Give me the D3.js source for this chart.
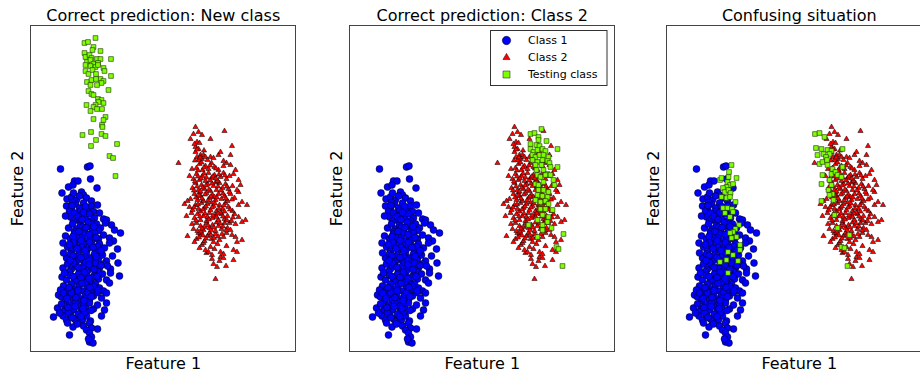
<!DOCTYPE html>
<html>
<head>
<meta charset="utf-8">
<script src="https://cdn.jsdelivr.net/npm/d3@7"></script>
<style>
  body { margin: 0; background: #fff; }
  text { font-family: "DejaVu Sans", sans-serif; fill: #000; }
</style>
</head>
<body>
<svg id="chart" width="920" height="377"></svg>
<script>
// panel titles and labels
const titles = ['Correct prediction: New class', 'Correct prediction: Class 2', 'Confusing situation'];
const xLabel = 'Feature 1';
const yLabel = 'Feature 2';
const legendLabels = ['Class 1', 'Class 2', 'Testing class'];

// class 1 (blue circles), same in every panel
const classOne = [
  [3.0,18.3],[5.7,18.5],[5.95,18.6],[6.0,17.3],[4.4,17.1],[4.75,17.1],[3.8,16.5],[4.25,16.7],[6.65,16.4],[5.1,16.0],
  [5.3,15.7],[3.15,15.9],[3.65,15.3],[4.1,15.5],[4.6,15.2],[5.6,15.4],[6.1,15.1],[4.3,15.9],[4.9,15.6],
  [3.6,14.6],[4.1,14.3],[4.5,14.8],[4.9,14.4],[5.3,14.9],[5.7,14.2],[6.1,14.6],[6.3,14.05],[6.7,14.7],[4.2,14.95],[5.0,14.1],[5.5,14.55],[3.9,14.1],
  [4.0,13.5],[4.4,13.9],[4.7,13.2],[5.1,13.7],[5.5,13.3],[5.9,13.8],[6.4,13.4],[6.9,13.9],[7.3,13.3],[7.6,13.2],[4.3,13.1],[5.3,13.95],[6.1,13.1],[3.5,13.6],
  [3.8,12.4],[4.2,12.8],[4.6,12.3],[5.0,12.7],[5.4,12.2],[5.8,12.6],[6.2,12.1],[6.6,12.8],[7.0,12.4],[8.1,12.7],[8.4,12.2],[7.5,12.9],[4.4,12.05],[5.2,12.5],[6.0,12.9],[6.8,12.15],
  [3.5,11.6],[4.0,11.3],[4.4,11.8],[4.8,11.2],[5.2,11.6],[5.6,11.1],[6.0,11.5],[6.4,11.9],[6.8,11.3],[7.3,11.7],[9.0,11.9],[7.9,11.4],[4.6,11.5],[5.4,11.95],[6.2,11.2],[8.3,11.1],
  [3.25,10.9],[3.7,10.5],[4.1,10.1],[4.5,10.6],[4.9,10.2],[5.3,10.8],[5.7,10.3],[6.1,10.7],[6.5,10.2],[6.9,10.8],[7.4,10.4],[7.9,10.9],[8.7,10.3],[4.3,10.95],[5.1,10.5],[5.9,10.95],[6.7,10.55],[3.9,10.75],
  [3.6,9.4],[4.0,9.8],[4.4,9.3],[4.8,9.7],[5.2,9.2],[5.6,9.9],[6.0,9.4],[6.4,9.8],[6.8,9.3],[7.2,9.7],[7.6,9.1],[8.2,9.6],[4.6,9.05],[5.4,9.55],[6.2,9.05],[7.0,9.95],[3.3,9.9],
  [3.25,8.4],[3.7,8.8],[4.1,8.3],[4.5,8.7],[4.9,8.2],[5.3,8.6],[5.7,8.1],[6.1,8.5],[6.5,8.9],[6.9,8.4],[7.3,8.8],[8.75,8.9],[8.0,8.3],[4.3,8.95],[5.5,8.95],[6.7,8.05],[7.7,8.6],[3.9,8.05],
  [3.15,7.5],[3.6,7.2],[4.0,7.7],[4.4,7.3],[4.8,7.8],[5.2,7.2],[5.6,7.6],[6.0,7.1],[6.4,7.7],[6.8,7.3],[7.2,7.8],[8.0,7.9],[8.9,7.6],[7.6,7.2],[4.6,7.05],[5.4,7.95],[6.2,7.45],[3.4,7.9],
  [3.3,6.6],[3.7,6.2],[4.1,6.8],[4.5,6.3],[4.9,6.7],[5.3,6.1],[5.7,6.6],[6.1,6.2],[6.5,6.8],[6.9,6.4],[7.9,6.9],[7.3,6.1],[4.3,6.05],[5.5,6.95],[6.3,6.55],[3.0,6.2],
  [2.8,5.7],[3.1,5.5],[3.5,5.1],[3.9,5.6],[4.3,5.2],[4.7,5.8],[5.1,5.3],[5.5,5.7],[5.9,5.2],[6.3,5.6],[7.6,5.9],[7.1,5.4],[6.7,5.95],[4.1,5.95],[4.9,5.05],[5.7,5.95],[3.3,5.9],
  [2.7,4.4],[3.1,4.8],[3.5,4.3],[3.9,4.7],[4.3,4.2],[4.7,4.6],[5.1,4.1],[5.5,4.5],[5.9,4.9],[6.3,4.3],[7.6,4.9],[7.4,4.2],[6.7,4.7],[3.3,4.05],[4.5,4.95],[5.3,4.85],
  [2.3,3.5],[3.25,3.6],[2.9,3.9],[3.6,3.2],[4.0,3.7],[4.4,3.3],[4.8,3.8],[5.2,3.2],[5.6,3.6],[6.0,3.1],[7.1,3.6],[4.6,3.05],[5.4,3.95],[3.8,3.95],
  [4.25,2.5],[5.9,2.9],[6.1,2.4],[6.7,2.3],[4.7,2.8],[5.3,2.6],[5.6,2.2],[3.7,2.9],
  [3.9,1.7],[5.9,1.9],[6.1,1.5],[5.9,1.0],[6.25,0.9],[5.8,1.3],
  [4.15,14.65],[4.75,13.55],[5.15,13.25],[5.75,12.95],[4.85,12.05],[5.55,12.45],[6.35,12.55],[4.25,11.55],[5.05,11.15],[5.85,11.75],
  [6.55,11.45],[4.65,10.35],[5.45,10.15],[6.25,10.45],[7.05,10.15],[4.25,9.65],[5.05,9.45],[5.85,9.15],[6.55,9.55],[3.95,9.15],
  [4.75,8.45],[5.85,8.75],[6.35,8.25],[7.05,8.65],[4.25,7.55],[5.05,7.45],[5.85,7.35],[6.65,7.55],[3.85,6.45],[4.75,6.15],
  [5.15,6.85],[5.95,6.45],[6.75,6.15],[3.65,5.35],[4.55,5.45],[5.35,5.15],[6.05,5.55],[3.75,4.45],[4.45,4.55],[5.25,4.35],
  [6.05,4.15],[4.15,3.45],[5.05,3.55]
];

// class 2 (red triangles), same in every panel
const classTwo = [
  [18.5,7.3],[18.3,8.8],[18.65,8.5],[19.55,8.6],
  [18.15,9.3],[19.0,9.5],[19.3,9.4],[20.3,9.2],[18.15,9.7],[17.6,9.9],[18.9,9.1],
  [17.15,10.7],[17.5,10.2],[17.8,10.0],[19.0,10.0],[19.3,9.8],[20.3,10.2],[20.65,10.0],[18.0,10.5],[18.4,10.3],[17.3,10.9],[18.7,10.8],[16.9,10.4],[19.6,10.6],
  [15.7,11.6],[20.15,11.7],[20.5,11.5],[21.15,11.2],[20.65,11.0],[16.6,11.3],[17.0,11.8],[17.4,11.1],[17.7,11.6],[18.1,11.3],[18.5,11.8],[18.9,11.2],[19.3,11.5],[16.8,11.9],[17.9,11.9],[19.6,11.9],[16.4,11.0],[18.3,11.0],
  [16.15,12.8],[16.3,12.3],[20.5,12.8],[16.7,12.1],[17.0,12.6],[17.3,12.2],[17.6,12.9],[17.9,12.4],[18.2,12.7],[18.5,12.1],[18.8,12.6],[19.1,12.3],[19.4,12.9],[19.7,12.4],[20.0,12.2],[16.6,12.9],[17.4,12.5],[18.6,12.95],[19.9,12.9],[17.05,12.05],
  [21.5,13.2],[21.15,13.0],[16.4,13.4],[16.7,13.8],[17.0,13.2],[17.3,13.6],[17.6,13.1],[17.9,13.9],[18.2,13.4],[18.5,13.7],[18.8,13.2],[19.1,13.8],[19.4,13.3],[19.7,13.6],[20.1,13.1],[20.4,13.8],[16.1,13.9],[17.7,13.5],[18.6,13.5],[19.0,13.95],[15.6,13.6],[20.8,13.5],
  [21.65,14.7],[20.8,14.7],[21.15,15.0],[16.2,14.2],[16.5,14.7],[16.8,14.3],[17.1,14.9],[17.4,14.4],[17.7,14.8],[18.0,14.2],[18.3,14.6],[18.6,14.1],[18.9,14.7],[19.2,14.3],[19.5,14.9],[19.8,14.5],[20.2,14.1],[15.4,14.8],[17.0,14.05],[18.1,14.95],[19.4,14.05],[15.9,14.5],
  [16.0,15.3],[16.4,15.8],[16.7,15.2],[17.0,15.6],[17.3,15.1],[17.6,15.9],[17.9,15.4],[18.2,15.7],[18.5,15.2],[18.8,15.8],[19.1,15.3],[19.4,15.6],[19.7,15.1],[20.0,15.8],[20.4,15.4],[16.9,15.95],[18.4,15.5],[19.9,16.0],[15.7,15.1],[20.8,16.0],
  [20.65,16.2],[21.0,16.7],[16.2,16.4],[16.5,16.9],[16.8,16.2],[17.1,16.7],[17.4,16.3],[17.7,16.8],[18.0,16.1],[18.3,16.6],[18.6,16.2],[18.9,16.9],[19.2,16.4],[19.5,16.8],[19.8,16.3],[20.2,16.6],[17.0,16.05],[18.5,16.95],
  [20.3,17.8],[20.8,17.2],[16.3,17.3],[16.6,17.8],[16.9,17.2],[17.2,17.6],[17.5,17.1],[17.8,17.9],[18.1,17.4],[18.4,17.7],[18.7,17.1],[19.0,17.5],[19.3,17.9],[19.6,17.3],[19.9,17.6],[15.9,17.6],[17.6,17.45],
  [14.8,18.9],[16.15,18.3],[20.0,18.7],[20.5,18.2],[16.6,18.4],[16.9,18.8],[17.2,18.2],[17.5,18.6],[17.8,18.3],[18.1,18.9],[18.4,18.5],[18.8,18.2],[19.3,18.6],[19.6,18.9],[17.1,18.95],
  [16.5,20.0],[17.0,19.7],[16.65,19.5],[17.3,19.7],[17.15,19.3],[17.5,19.5],[18.0,19.5],[18.3,19.4],[18.8,19.7],[19.3,19.1],[20.0,19.7],[19.0,20.0],[16.8,19.2],[17.7,19.2],
  [16.5,20.5],[16.8,20.3],[16.65,21.0],[16.0,21.3],[18.0,21.3],[17.15,21.7],[16.8,22.0],[16.3,21.8],[16.5,22.5],[19.4,22.1],[20.15,20.6],[16.4,20.8],[16.9,20.9],
  [16.85,11.45],[17.25,11.65],[17.55,11.35],[18.05,11.7],[18.35,11.4],[18.75,11.55],[19.15,11.8],[17.15,12.35],[17.75,12.65],[18.05,12.2],
  [18.35,12.45],[18.95,12.85],[19.25,12.55],[19.55,12.15],[16.55,13.15],[16.95,13.55],[17.45,13.85],[17.85,13.25],[18.25,13.65],[18.75,13.85],
  [19.25,13.55],[19.65,13.15],[20.25,13.45],[16.35,14.45],[16.75,14.75],[17.25,14.25],[17.55,14.55],[18.15,14.45],[18.45,14.85],[18.85,14.35],
  [19.35,14.65],[19.95,14.25],[16.55,15.45],[16.85,15.65],[17.15,15.35],[17.45,15.75],[17.75,15.15],[18.05,15.55],[18.65,15.45],[19.25,15.85],
  [19.55,15.35],[20.15,15.25],[16.35,16.15],[16.65,16.55],[17.25,16.45],[17.55,16.65],[17.85,16.25],[18.15,16.85],[18.75,16.55],[19.05,16.15],
  [19.65,16.55],[16.45,17.05],[16.75,17.55],[17.05,17.35],[17.35,17.85],[17.95,17.15],[18.25,17.55],[18.55,17.35],[18.85,17.75],[19.45,17.65],
  [16.75,18.15],[17.35,18.45],[17.95,18.65],[18.55,18.35],[16.95,19.45],[16.45,19.15],[17.35,20.15],[16.65,20.25]
];

// testing class (green squares), one set per panel
const testingNew = [
  [6.5,31.4],[5.4,30.9],[5.75,31.0],[6.3,30.5],[6.2,30.2],[7.0,30.1],[5.4,29.9],[5.5,29.5],[5.9,29.7],[6.1,29.4],
  [6.65,29.3],[7.0,29.3],[8.05,29.3],[5.65,29.0],[6.0,29.2],[6.3,28.8],[6.75,28.9],[5.5,28.7],[6.0,28.6],[6.5,28.5],
  [6.75,28.7],[7.3,28.4],[7.4,28.1],[5.5,28.1],[5.8,27.8],[6.2,28.2],[6.55,27.8],[8.05,27.6],[7.0,27.3],[7.3,27.1],
  [7.1,26.9],[5.65,27.0],[6.1,27.2],[6.55,27.3],[6.0,26.7],[6.65,26.7],[7.8,26.2],[5.8,26.1],[6.1,25.8],[6.3,25.7],
  [6.75,25.3],[7.1,25.2],[7.3,24.9],[6.8,25.0],[5.6,24.7],[6.5,24.7],[6.3,24.5],[6.65,24.3],[7.15,24.3],[6.0,24.1],
  [7.5,23.5],[6.3,23.3],[7.3,23.2],[7.15,22.7],[7.2,22.5],[6.05,22.0],[5.2,21.7],[7.1,21.8],[7.5,21.6],[6.55,21.2],
  [6.05,20.6],[8.65,20.8],[7.9,19.6],[8.25,19.4],[8.5,17.6]
];
const testingClassTwo = [
  [19.2,22.3],[18.1,21.8],[18.5,21.9],[18.9,21.5],[18.9,21.2],[19.7,21.1],[18.1,20.8],[18.7,20.7],[19.0,20.6],[20.8,20.3],
  [18.1,20.3],[18.4,20.0],[18.8,20.2],[19.3,20.3],[19.6,20.1],[18.3,19.7],[18.6,19.5],[19.0,19.7],[19.4,19.7],[19.9,19.5],
  [18.3,19.2],[18.8,19.0],[19.3,19.2],[19.8,19.1],[20.0,18.9],[18.6,18.7],[19.2,18.7],[20.1,18.5],[20.8,18.5],[18.7,18.2],
  [19.4,18.2],[19.8,17.8],[18.8,17.7],[19.1,17.5],[19.6,17.7],[20.1,17.7],[18.6,16.8],[18.9,16.7],[19.4,17.0],[20.4,17.2],
  [20.5,16.7],[18.9,16.2],[19.4,16.2],[19.9,16.0],[18.8,15.7],[19.3,15.6],[19.8,15.5],[18.6,15.2],[19.1,15.0],[19.6,15.1],
  [19.9,14.8],[19.1,14.3],[19.6,14.3],[20.3,14.2],[19.3,13.7],[19.9,13.5],[18.8,13.2],[19.8,13.0],[17.9,12.7],[19.3,12.7],
  [20.2,12.4],[19.3,12.2],[21.4,11.8],[18.8,11.5],[20.7,10.5],[20.9,10.3],[21.3,8.6]
];
const testingConfusing = [
  [6.5,18.7],[6.25,18.0],[7.0,17.4],[5.35,17.2],[5.5,17.4],[6.2,17.5],[6.1,17.0],[6.35,16.7],[6.0,16.5],[6.65,16.8],
  [5.65,16.4],[5.85,16.0],[6.2,16.2],[6.4,15.9],[5.5,15.5],[6.0,15.4],[6.35,15.5],[6.9,15.0],[5.65,14.4],[6.1,14.4],
  [6.55,14.3],[5.85,13.9],[6.65,14.0],[6.35,13.5],[7.25,12.7],[6.9,12.3],[6.65,12.0],[6.35,11.9],[7.0,11.5],[6.5,11.4],
  [7.35,10.7],[7.35,10.2],[6.15,10.0],[6.65,9.7],[5.35,9.0],[6.0,9.2],[7.15,9.1],[6.15,7.9],
  [14.85,21.8],[15.3,21.9],[15.8,21.5],[14.95,20.4],[15.5,20.3],[16.1,20.2],[16.5,20.1],[16.3,19.8],[15.1,19.7],[15.7,19.8],
  [15.95,19.5],[17.6,20.3],[15.3,18.8],[15.6,19.0],[16.05,19.2],[16.1,18.7],[16.6,18.3],[16.5,17.8],[16.9,18.0],[17.1,17.7],
  [15.6,17.7],[15.5,16.8],[17.5,17.5],[17.6,18.5],[16.3,17.2],[16.5,16.7],[16.2,16.2],[16.6,15.8],[16.3,15.7],[15.5,15.1],
  [16.7,15.2],[16.8,13.7],[17.1,12.4],[18.3,11.7],[17.5,10.5],[17.8,10.4],[18.1,8.6]
];

const testingSets = [testingNew, testingClassTwo, testingConfusing];

const svg = d3.select('#chart');

const panelLeft = [30.5, 349.5, 666.5];
const panelW = 265.5, panelTop = 25.5, panelBottom = 351.5;

const x = d3.scaleLinear().domain([0, 26.55]).range([0, panelW]);
const y = d3.scaleLinear().domain([0, 32.65]).range([352, 25.5]);

const styles = [
  {path: d3.symbol().type(d3.symbolCircle).size(38)(), fill: '#0000ff', stroke: '#000', sw: 0.5},
  {path: d3.symbol().type(d3.symbolTriangle).size(12)(), fill: '#ff0000', stroke: '#000', sw: 0.5},
  {path: d3.symbol().type(d3.symbolSquare).size(22)(), fill: '#7fff00', stroke: '#1a3300', sw: 0.6}
];

function drawPoints(g, data, st) {
  g.append('g').selectAll('path')
   .data(data)
   .enter().append('path')
   .attr('d', st.path)
   .attr('transform', d => 'translate(' + x(d[0]) + ',' + y(d[1]) + ')')
   .attr('fill', st.fill)
   .attr('stroke', st.stroke)
   .attr('stroke-width', st.sw);
}

titles.forEach((title, i) => {
  const g = svg.append('g').attr('transform', 'translate(' + panelLeft[i] + ',0)');

  drawPoints(g, classOne, styles[0]);
  drawPoints(g, classTwo, styles[1]);
  drawPoints(g, testingSets[i], styles[2]);

  g.append('rect')
   .attr('x', 0).attr('y', panelTop)
   .attr('width', panelW - 0.5).attr('height', panelBottom - panelTop)
   .attr('fill', 'none')
   .attr('stroke', '#444')
   .attr('stroke-width', 1);

  g.append('text')
   .attr('x', panelW / 2).attr('y', 21)
   .attr('text-anchor', 'middle')
   .style('font-size', '16px')
   .text(title);

  g.append('text')
   .attr('x', panelW / 2).attr('y', 369)
   .attr('text-anchor', 'middle')
   .style('font-size', '16px')
   .text(xLabel);

  g.append('text')
   .attr('transform', 'translate(-7.5,' + ((panelTop + panelBottom) / 2) + ') rotate(-90)')
   .attr('text-anchor', 'middle')
   .style('font-size', '16px')
   .text(yLabel);
});

// legend in the middle panel
const legend = svg.append('g').attr('transform', 'translate(490.5,30.5)');
legend.append('rect')
      .attr('width', 116.5).attr('height', 55)
      .attr('fill', '#fff')
      .attr('stroke', '#333')
      .attr('stroke-width', 1);

const legendShapes = [
  d3.symbol().type(d3.symbolCircle).size(55)(),
  d3.symbol().type(d3.symbolTriangle).size(22)(),
  d3.symbol().type(d3.symbolSquare).size(48)()
];

legendLabels.forEach((label, i) => {
  const row = legend.append('g').attr('transform', 'translate(0,' + (10 + i * 17) + ')');
  row.append('path')
     .attr('d', legendShapes[i])
     .attr('transform', 'translate(16,0)')
     .attr('fill', styles[i].fill)
     .attr('stroke', styles[i].stroke)
     .attr('stroke-width', styles[i].sw);
  row.append('text')
     .attr('x', 37.5).attr('y', 0)
     .attr('dy', '0.35em')
     .style('font-size', '11px')
     .text(label);
});
</script>
</body>
</html>
